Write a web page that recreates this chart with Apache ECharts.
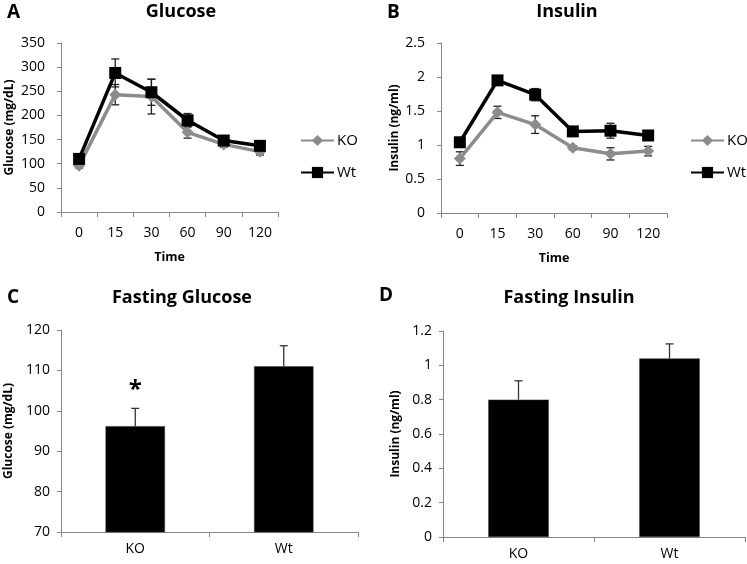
<!DOCTYPE html>
<html>
<head>
<meta charset="utf-8">
<script src="https://cdn.jsdelivr.net/npm/echarts@6/dist/echarts.min.js"></script>
<style>
html,body{margin:0;padding:0;background:#fff;}
#c{width:747px;height:564px;}
</style>
</head>
<body>
<div id="c"></div>
<script>
const timeLabels = ['0', '15', '30', '60', '90', '120'];
const glucoseKO = [96, 243, 239, 165, 140, 125];
const glucoseKOErr = [5, 21, 36, 12, 6, 7];
const glucoseWt = [110, 288, 248, 190, 148, 137];
const glucoseWtErr = [8, 29, 27, 14, 7, 6];
const insulinKO = [0.80, 1.48, 1.30, 0.96, 0.87, 0.91];
const insulinKOErr = [0.10, 0.09, 0.13, 0.03, 0.09, 0.07];
const insulinWt = [1.04, 1.95, 1.74, 1.20, 1.21, 1.14];
const insulinWtErr = [0.06, 0.03, 0.09, 0.03, 0.11, 0.06];
const groups = ['KO', 'Wt'];
const fastingGlucose = [96.2, 111];
const fastingGlucoseErr = [4.4, 5.1];
const fastingInsulin = [0.80, 1.04];
const fastingInsulinErr = [0.11, 0.085];
const glucoseSig = ['*', ''];
const insulinSig = ['', ''];

const FONT = "'Open Sans', 'Liberation Sans', sans-serif";
const AXIS_GRAY = '#868686';
const KO_COLOR = '#8c8c8c';

function errSeries(xi, values, errs, both, color, sig) {
  return {
    type: 'custom',
    xAxisIndex: xi, yAxisIndex: xi,
    z: 1,
    silent: true,
    data: values.map((v, i) => [i, v, errs[i]]),
    encode: {x: 0, y: 1},
    renderItem: function (params, api) {
      const x = api.value(0), v = api.value(1), e = api.value(2);
      const top = api.coord([x, v + e]);
      const bot = api.coord([x, both ? v - e : v]);
      const hw = 4;
      const st = {stroke: color, lineWidth: 1.3};
      const ch = [
        {type: 'line', shape: {x1: top[0], y1: top[1], x2: bot[0], y2: bot[1]}, style: st},
        {type: 'line', shape: {x1: top[0] - hw, y1: top[1], x2: top[0] + hw, y2: top[1]}, style: st}
      ];
      if (both) ch.push({type: 'line', shape: {x1: bot[0] - hw, y1: bot[1], x2: bot[0] + hw, y2: bot[1]}, style: st});
      if (sig && sig[params.dataIndex]) {
        ch.push({type: 'text', style: {text: sig[params.dataIndex], x: top[0], y: top[1] - 6,
          align: 'center', verticalAlign: 'bottom', fill: '#000', font: 'bold 24px ' + FONT}});
      }
      return {type: 'group', children: ch};
    }
  };
}

function xAxisCfg(gi, data, name, labelMargin) {
  return {
    type: 'category', gridIndex: gi, data: data,
    axisLine: {lineStyle: {color: AXIS_GRAY, width: 1}},
    axisTick: {show: true, length: 5, lineStyle: {color: AXIS_GRAY}},
    axisLabel: {color: '#000', fontSize: 14, fontFamily: FONT, margin: labelMargin},
    name: name, nameLocation: 'middle', nameGap: 39,
    nameTextStyle: {color: '#000', fontSize: 12.5, fontWeight: 'bold', fontFamily: FONT},
    splitLine: {show: false}
  };
}
function yAxisCfg(gi, min, max, interval, name, labelMargin, nameGap) {
  return {
    type: 'value', gridIndex: gi, min: min, max: max, interval: interval,
    axisLine: {show: true, lineStyle: {color: AXIS_GRAY, width: 1}},
    axisTick: {show: true, length: 4, lineStyle: {color: AXIS_GRAY}},
    axisLabel: {color: '#000', fontSize: 14, fontFamily: FONT, margin: labelMargin},
    splitLine: {show: false},
    name: name, nameLocation: 'middle', nameGap: nameGap, nameRotate: 90,
    nameTextStyle: {color: '#000', fontSize: 12, fontWeight: 'bold', fontFamily: FONT}
  };
}
function lineSeries(xi, name, data, color, symbol, size) {
  return {
    type: 'line', name: name, xAxisIndex: xi, yAxisIndex: xi, data: data, z: 3,
    symbol: symbol, symbolSize: size, showAllSymbol: true,
    lineStyle: {color: color, width: 3.5},
    itemStyle: {color: color},
    emphasis: {disabled: true}
  };
}
function barSeries(xi, data) {
  return {
    type: 'bar', xAxisIndex: xi, yAxisIndex: xi, data: data, barWidth: '40%', z: 2,
    itemStyle: {color: '#000', borderColor: '#333', borderWidth: 0.5}
  };
}

const chart = echarts.init(document.getElementById('c'), null, {renderer: 'canvas'});
const titleStyle = {color: '#000', fontSize: 18, fontWeight: 'bold', fontFamily: FONT};
const letterStyle = {color: '#000', fontSize: 19, fontWeight: 'bold', fontFamily: FONT};
const legendCfg = (left) => ({
  data: ['KO', 'Wt'], orient: 'vertical', left: left, top: 133, padding: 0,
  itemWidth: 33, itemHeight: 14, itemGap: 17,
  textStyle: {color: '#000', fontSize: 15, fontFamily: FONT, padding: [0, 0, 0, -2]},
  selectedMode: false
});
chart.setOption({
  animation: false,
  backgroundColor: '#fff',
  title: [
    {text: 'A', left: 2, top: -2, textStyle: letterStyle},
    {text: 'Glucose', left: 176, top: -2, textAlign: 'center', textStyle: titleStyle},
    {text: 'B', left: 382, top: -2, textStyle: letterStyle},
    {text: 'Insulin', left: 562, top: -2, textAlign: 'center', textStyle: titleStyle},
    {text: 'C', left: 2, top: 283, textStyle: letterStyle},
    {text: 'Fasting Glucose', left: 177, top: 284, textAlign: 'center', textStyle: titleStyle},
    {text: 'D', left: 374, top: 281, textStyle: letterStyle},
    {text: 'Fasting Insulin', left: 564, top: 284, textAlign: 'center', textStyle: titleStyle}
  ],
  legend: [legendCfg(300), legendCfg(690)],
  grid: [
    {left: 61, top: 43, width: 217, height: 169},
    {left: 441, top: 43, width: 226, height: 170},
    {left: 61, top: 330, width: 297, height: 202},
    {left: 443, top: 331, width: 302, height: 206}
  ],
  xAxis: [
    xAxisCfg(0, timeLabels, 'Time', 14),
    xAxisCfg(1, timeLabels, 'Time', 14),
    xAxisCfg(2, groups, '', 10),
    xAxisCfg(3, groups, '', 10)
  ],
  yAxis: [
    yAxisCfg(0, 0, 350, 50, 'Glucose (mg/dL)', 16, 45),
    yAxisCfg(1, 0, 2.5, 0.5, 'Insulin (ng/ml)', 16, 40),
    yAxisCfg(2, 70, 120, 10, 'Glucose (mg/dL)', 11, 46),
    yAxisCfg(3, 0, 1.2, 0.2, 'Insulin (ng/ml)', 11, 41)
  ],
  series: [
    errSeries(0, glucoseKO, glucoseKOErr, true, '#222'),
    errSeries(0, glucoseWt, glucoseWtErr, true, '#222'),
    lineSeries(0, 'KO', glucoseKO, KO_COLOR, 'diamond', 12),
    lineSeries(0, 'Wt', glucoseWt, '#000', 'rect', 12),
    errSeries(1, insulinKO, insulinKOErr, true, '#222'),
    errSeries(1, insulinWt, insulinWtErr, true, '#222'),
    lineSeries(1, 'KO', insulinKO, KO_COLOR, 'diamond', 12),
    lineSeries(1, 'Wt', insulinWt, '#000', 'rect', 12),
    barSeries(2, fastingGlucose),
    errSeries(2, fastingGlucose, fastingGlucoseErr, false, '#333', glucoseSig),
    barSeries(3, fastingInsulin),
    errSeries(3, fastingInsulin, fastingInsulinErr, false, '#333', insulinSig)
  ]
});
</script>
</body>
</html>
